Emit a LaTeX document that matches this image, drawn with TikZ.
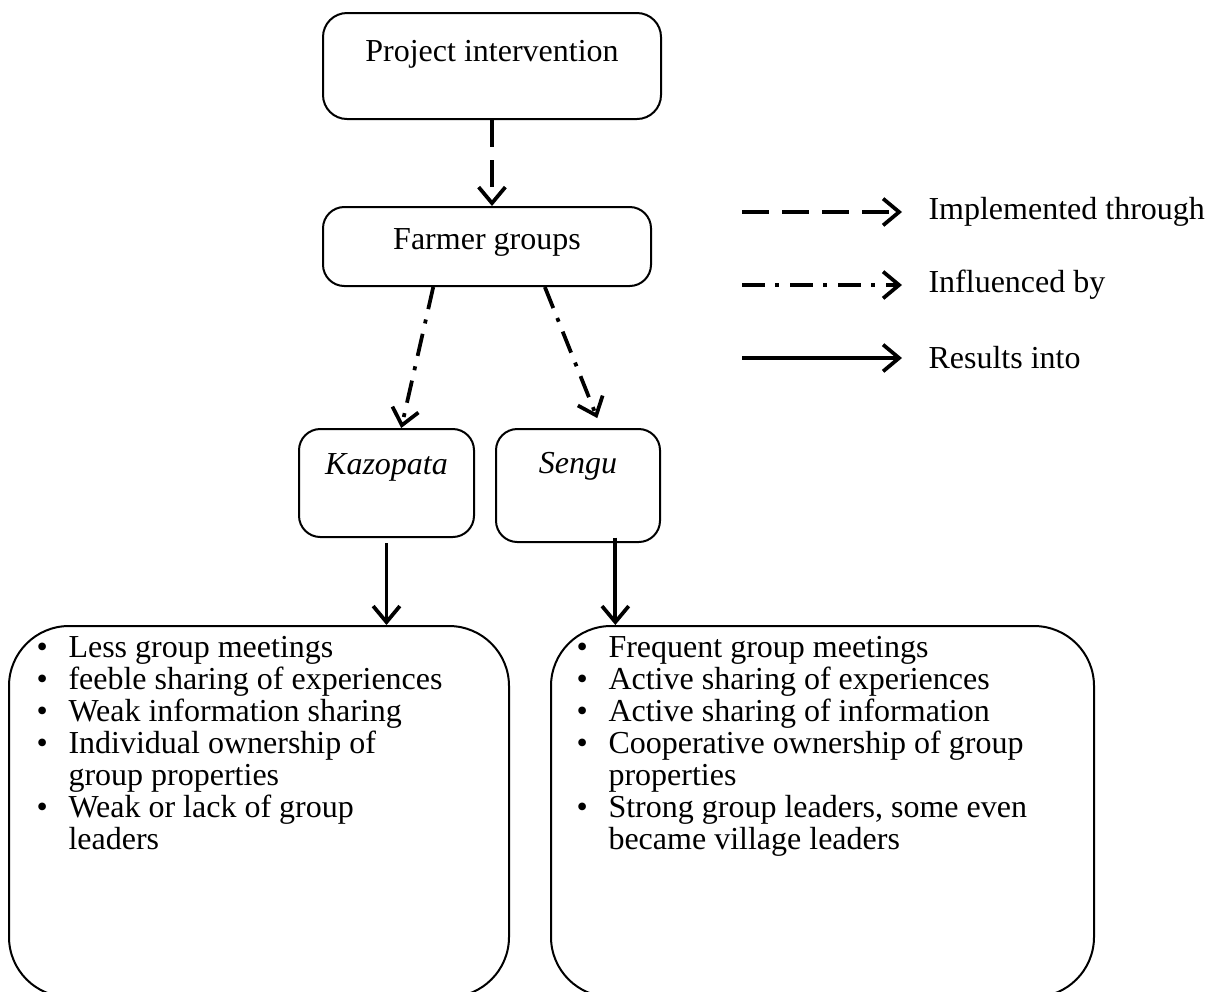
\documentclass[tikz,border=0pt]{standalone}
\usepackage{fontspec}
\setmainfont{Liberation Serif}
\usepackage{tikz}
\usetikzlibrary{arrows.meta,positioning}

\begin{document}
\begin{tikzpicture}[x=0.375pt,y=-0.375pt,>={Straight Barb[length=6pt,width=10pt]},
		every node/.style={font=\fontsize{12pt}{12pt}\selectfont},
		box/.style={draw,line width=0.75pt,rounded corners=8pt,inner sep=0pt,anchor=north west},
		bigbox/.style={draw,line width=0.75pt,rounded corners=22.5pt,inner sep=0pt,anchor=north west,minimum height=139.125pt},
		link/.style={->,line width=1.4pt},
		implem/.style={link,dash pattern=on 10pt off 5pt},
		influ/.style={link,dash pattern=on 8.5pt off 4pt on 1.5pt off 4pt},
		result/.style={link}]
	\useasboundingbox (0,0) rectangle (1209,991);
	\node[box,rounded corners=9pt,minimum width=126.75pt,text height=18pt,text depth=21.75pt] (proj) at (322,12) {Project intervention};
	\node[box,minimum width=123pt,text height=16pt,text depth=13.625pt] (farmer) at (322,206) {Farmer groups};
	\node[box,minimum width=65.625pt,text height=16.875pt,text depth=23.625pt] (kaz) at (298,428) {\textit{Kazopata}};
	\node[box,minimum width=61.5pt,text height=16.5pt,text depth=25.875pt] (sengu) at (495,428) {\textit{Sengu}};

	\node[bigbox,minimum width=187.5pt] (kazres) at (8,625) {};
	\node[bigbox,minimum width=203.625pt] (sengures) at (550,625) {};
	\node[inner sep=0pt,anchor=base west] (kazlist) at (36,657) {\begin{tabular}[t]{@{}p{12pt}@{}l@{}}
		\textbullet & Less group meetings\\
		\textbullet & feeble sharing of experiences\\
		\textbullet & Weak information sharing\\
		\textbullet & Individual ownership of\\
		 & group properties\\
		\textbullet & Weak or lack of group\\
		 & leaders
	\end{tabular}};
	\node[inner sep=0pt,anchor=base west] (sengulist) at (576,657) {\begin{tabular}[t]{@{}p{12pt}@{}l@{}}
		\textbullet & Frequent group meetings\\
		\textbullet & Active sharing of experiences\\
		\textbullet & Active sharing of information\\
		\textbullet & Cooperative ownership of group\\
		 & properties\\
		\textbullet & Strong group leaders, some even\\
		 & became village leaders
	\end{tabular}};

	\draw[implem] (proj.south) -- (proj.south |- farmer.north);
	\draw[influ] (farmer.217) -- (kaz.75);
	\draw[influ,shorten >=4pt] (farmer.-35) -- (sengu.68);
	\draw[result,shorten <=2pt] (kaz.south) -- (kaz.south |- kazres.north);
	\draw[result,shorten <=-2pt] (sengu.-57) -- (sengu.-57 |- sengures.north);

	% legend
	\coordinate (imp-s) at (742,212);
	\coordinate (imp-e) at (902,212);
	\coordinate (inf-s) at (742,285);
	\coordinate (inf-e) at (902,285);
	\coordinate (res-s) at (742,358);
	\coordinate (res-e) at (902,358);
	\draw[implem] (imp-s) -- (imp-e);
	\draw[influ] (inf-s) -- (inf-e);
	\draw[result] (res-s) -- (res-e);
	\node[inner sep=0pt,right=9.75pt of imp-e] (imp) {Implemented through};
	\node[inner sep=0pt,right=9.75pt of inf-e] (inf) {Influenced by};
	\node[inner sep=0pt,right=9.75pt of res-e] (res) {Results into};
\end{tikzpicture}
\end{document}
